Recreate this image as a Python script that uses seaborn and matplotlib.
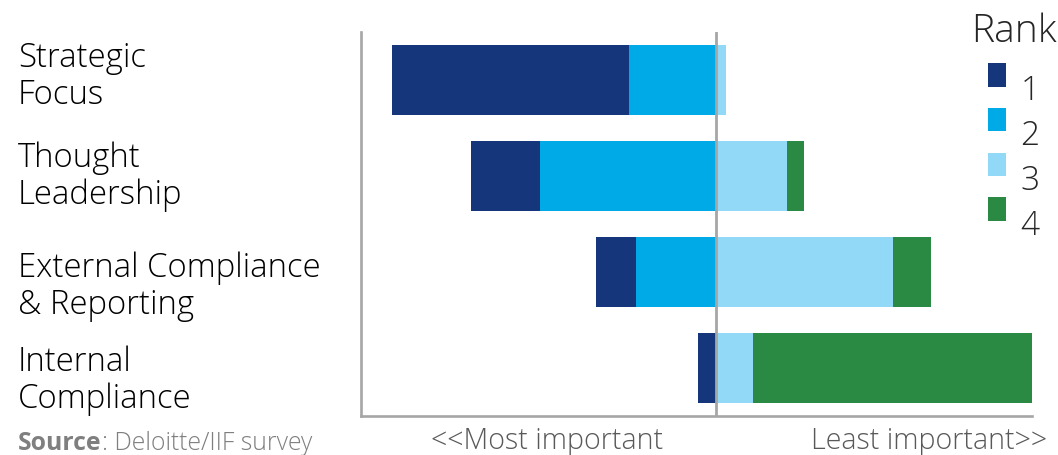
import numpy as np
import pandas as pd
import matplotlib
matplotlib.use("Agg")
import matplotlib.pyplot as plt
import matplotlib.transforms as mtransforms
from matplotlib.patches import Patch, Rectangle
from matplotlib.legend_handler import HandlerPatch
import seaborn as sns

# ---------------- data ----------------
categories = ["Strategic\nFocus", "Thought\nLeadership",
              "External Compliance\n& Reporting", "Internal\nCompliance"]
rank1 = [71.0, 20.7, 12.0, 5.4]
rank2 = [26.0, 52.9, 24.0, 0.0]
rank3 = [3.0, 21.3, 53.0, 11.1]
rank4 = [0.0, 5.1, 11.4, 83.5]
rank_labels = ["1", "2", "3", "4"]
legend_title = "Rank"
left_axis_text = "<<Most important"
right_axis_text = "Least important>>"
source_bold = "Source"
source_rest = ": Deloitte/IIF survey"

colors = ["#15367B", "#00AAE7", "#92D9F8", "#2A8A43"]
axis_gray = "#A6A6A6"
text_gray = "#595959"

sns.set_theme(style="white")
plt.rcParams['font.family'] = ['Open Sans', 'DejaVu Sans']

df = pd.DataFrame({"cat": categories, "r1": rank1, "r2": rank2,
                   "r3": rank3, "r4": rank4})
df["left_outer"] = -(df["r1"] + df["r2"])
df["left_inner"] = -df["r2"]
df["right_outer"] = df["r3"] + df["r4"]
df["right_inner"] = df["r3"]

W, H = 1058, 455
fig = plt.figure(figsize=(W / 100, H / 100), dpi=100)
ax = fig.add_axes([361 / W, 1 - 416 / H, 670.7 / W, 384 / H])

for col, c in [("left_outer", colors[0]), ("left_inner", colors[1]),
               ("right_outer", colors[3]), ("right_inner", colors[2])]:
    sns.barplot(data=df, x=col, y="cat", orient="h", color=c, saturation=1,
                width=0.735, errorbar=None, linewidth=0, ax=ax)

ax.set_xlim(-106.4, 94.45)
ax.set_ylim(3.5, -0.5)
ax.axvline(0, color=axis_gray, lw=2.0, zorder=10)
ax.set_xlabel("")
ax.set_ylabel("")
ax.set_xticks([])
for s in ["top", "right"]:
    ax.spines[s].set_visible(False)
for s in ["left", "bottom"]:
    ax.spines[s].set_color(axis_gray)
    ax.spines[s].set_linewidth(1.9)

ax.tick_params(axis="y", length=0, pad=343 * 0.72)
offsets_px = [-9, -5, 9, 7]
for lab, dy in zip(ax.get_yticklabels(), offsets_px):
    lab.set_horizontalalignment("left")
    lab.set_fontsize(23.7)
    lab.set_fontweight("light")
    lab.set_color("black")
    lab.set_linespacing(1.13)
    lab.set_transform(lab.get_transform() +
                      mtransforms.ScaledTranslation(0, -dy / 100, fig.dpi_scale_trans))

# axis end texts
fig.text(547.5 / W, 1 - 448.5 / H, left_axis_text, ha="center", va="baseline",
         fontsize=20.6, color=text_gray, fontweight="light")
fig.text(929 / W, 1 - 448.5 / H, right_axis_text, ha="center", va="baseline",
         fontsize=20.6, color=text_gray, fontweight="light")

# source
t1 = fig.text(18 / W, 1 - 450 / H, source_bold, ha="left", va="baseline",
              fontsize=17.8, color="#7F7F7F", fontweight="bold")
fig.canvas.draw()
bb = t1.get_window_extent()
fig.text(bb.x1 / W, 1 - 450 / H, source_rest, ha="left", va="baseline",
         fontsize=17.8, color="#7F7F7F", fontweight="light")

# legend
def make_rect(legend, orig_handle, xdescent, ydescent, width, height, fontsize):
    return Rectangle((-xdescent, -ydescent + 10), width, height)

handles = [Patch(facecolor=c, edgecolor="none") for c in colors]
leg = fig.legend(handles, rank_labels, title=legend_title, loc="upper center",
                 bbox_to_anchor=(1014 / W, 1 - 12 / H), frameon=False,
                 fontsize=24, title_fontsize=28, handlelength=0.54,
                 handleheight=0.72, handletextpad=0.42, labelspacing=0.34,
                 borderpad=0, borderaxespad=0,
                 handler_map={Patch: HandlerPatch(patch_func=make_rect)})
leg._legend_box.sep = 17.5
for t in leg.get_texts():
    t.set_fontweight("light")
leg.get_title().set_fontweight("light")

fig.savefig("out.png", dpi=100)
